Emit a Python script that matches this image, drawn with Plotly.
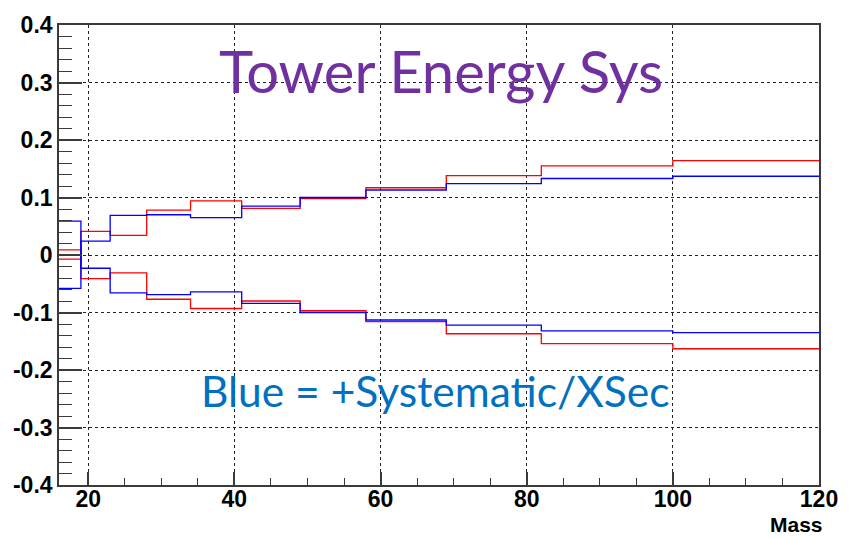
import plotly.graph_objects as go

# Mass bin edges (GeV)
bin_edges = [16, 19, 23, 28, 34, 41, 49, 58, 69, 82, 100, 120]

# Relative tower-energy systematic per bin
red_up = [-0.007, 0.041, 0.034, 0.078, 0.094, 0.081, 0.098, 0.117, 0.138, 0.155, 0.164]
red_down = [0.009, -0.041, -0.031, -0.077, -0.093, -0.080, -0.097, -0.116, -0.137, -0.154, -0.163]
blue_up = [-0.058, 0.024, 0.069, 0.070, 0.065, 0.085, 0.100, 0.113, 0.124, 0.133, 0.137]
blue_down = [0.059, -0.023, -0.066, -0.069, -0.064, -0.084, -0.100, -0.113, -0.122, -0.132, -0.135]

x_ticks = [20, 40, 60, 80, 100, 120]
y_ticks = [-0.4, -0.3, -0.2, -0.1, 0, 0.1, 0.2, 0.3, 0.4]
y_tick_text = ["-0.4", "-0.3", "-0.2", "-0.1", "0", "0.1", "0.2", "0.3", "0.4"]

fig = go.Figure()


def add_hist(values, color):
    # step outline: each bin value held across [edge_i, edge_i+1]
    fig.add_trace(go.Scatter(
        x=bin_edges,
        y=values + [values[-1]],
        mode="lines",
        line=dict(color=color, width=1.3, shape="hv"),
        showlegend=False,
        hoverinfo="skip",
    ))


add_hist(red_up, "#ff0000")
add_hist(red_down, "#ff0000")
add_hist(blue_up, "#0000ff")
add_hist(blue_down, "#0000ff")

tick_font = dict(family="Liberation Sans, Arial", size=23, color="black", weight="bold")
axis_color = "#3a3a3a"

fig.update_xaxes(
    range=[16, 120],
    tickvals=x_ticks,
    ticktext=[str(v) for v in x_ticks],
    ticks="inside",
    ticklen=13,
    tickwidth=1.5,
    tickcolor=axis_color,
    tickfont=tick_font,
    ticklabelstandoff=-7,
    minor=dict(ticks="inside", ticklen=7, tickwidth=1.3, tickcolor=axis_color,
               tick0=0, dtick=5, showgrid=False),
    showline=True,
    linecolor=axis_color,
    linewidth=1.6,
    mirror=True,
    showgrid=True,
    gridcolor="#222222",
    gridwidth=1,
    griddash="dot",
    zeroline=False,
)

fig.update_yaxes(
    range=[-0.4, 0.4],
    tickvals=y_ticks,
    ticktext=y_tick_text,
    ticks="inside",
    ticklen=23,
    tickwidth=1.5,
    tickcolor=axis_color,
    tickfont=tick_font,
    minor=dict(ticks="inside", ticklen=13, tickwidth=1.3, tickcolor=axis_color,
               tick0=0, dtick=0.02, showgrid=False),
    showline=True,
    linecolor=axis_color,
    linewidth=1.6,
    mirror=True,
    showgrid=True,
    gridcolor="#222222",
    gridwidth=1,
    griddash="dot",
    zeroline=False,
)

fig.add_annotation(
    text="Tower Energy Sys",
    xref="paper", yref="paper",
    x=0.503, y=0.902,
    xanchor="center", yanchor="middle",
    showarrow=False,
    font=dict(family="Lato", size=58, color="#7030a0"),
)

fig.add_annotation(
    text="Blue = +Systematic/XSec",
    xref="paper", yref="paper",
    x=0.495, y=0.205,
    xanchor="center", yanchor="middle",
    showarrow=False,
    font=dict(family="Lato", size=42.5, color="#0070c0"),
)

fig.add_annotation(
    text="Mass",
    xref="paper", yref="paper",
    x=1.008, y=-0.086,
    xanchor="right", yanchor="middle",
    showarrow=False,
    font=dict(family="Liberation Sans, Arial", size=21, color="black", weight="bold"),
)

fig.update_layout(
    width=850,
    height=539,
    margin=dict(l=59, r=23, t=19, b=54),
    paper_bgcolor="white",
    plot_bgcolor="white",
)

fig.write_html("out.html")
